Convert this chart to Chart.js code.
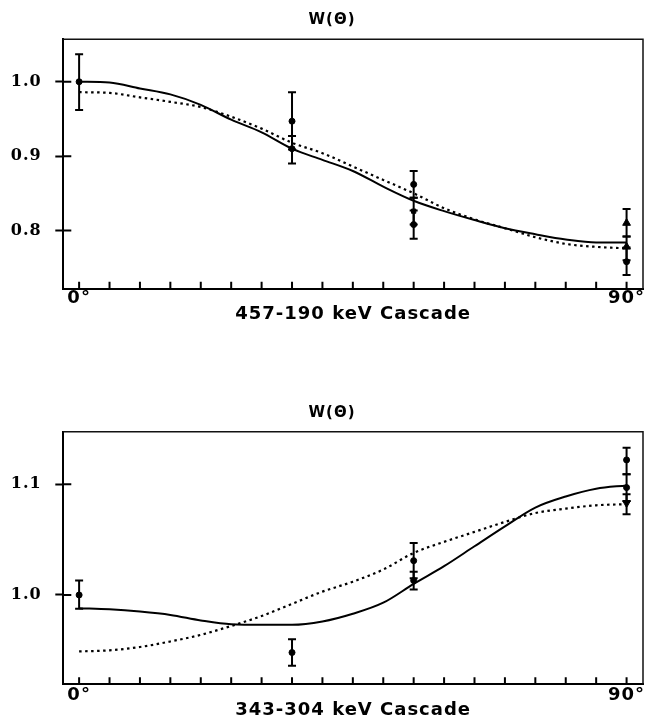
<!DOCTYPE html>
<html>
<head>
<meta charset="UTF-8">
<title>W(Θ) – 457-190 keV and 343-304 keV cascades</title>
<script src="https://cdn.jsdelivr.net/npm/chart.js"></script>
<style>
  body { margin: 0; background: #fff; }
  canvas { position: absolute; left: 0; }
  #topChart { top: 0; }
  #bottomChart { top: 380px; }
</style>
</head>
<body>
<canvas id="topChart" width="646" height="330"></canvas>
<canvas id="bottomChart" width="646" height="339"></canvas>
<script>
// angle grid (degrees) shared by both fitted curves and the x ticks
const angles = [0, 5, 10, 15, 20, 25, 30, 35, 40, 45, 50, 55, 60, 65, 70, 75, 80, 85, 90];
const xTickLabels = { 0: '0°', 90: '90°' };

// 457-190 keV cascade
const topSolid  = [1.000, 0.999, 0.991, 0.983, 0.969, 0.949, 0.932, 0.910, 0.895, 0.880, 0.859, 0.840, 0.826, 0.814, 0.803, 0.795, 0.788, 0.784, 0.784];
const topDotted = [0.986, 0.985, 0.979, 0.973, 0.966, 0.953, 0.937, 0.918, 0.904, 0.886, 0.868, 0.850, 0.830, 0.815, 0.803, 0.791, 0.782, 0.778, 0.776];
const topPtAngle = [0, 35, 35, 55, 55, 55, 90, 90, 90];
const topPtValue = [1.000, 0.947, 0.910, 0.862, 0.826, 0.808, 0.810, 0.778, 0.758];
const topPtLow   = [0.962, 0.909, 0.890, 0.844, 0.808, 0.789, 0.792, 0.760, 0.740];
const topPtHigh  = [1.037, 0.986, 0.927, 0.880, 0.844, 0.827, 0.829, 0.792, 0.777];
const topPtStyle = ['circle', 'circle', 'circle', 'circle', 'rect', 'circle', 'triangle', 'triangle', 'circle'];
const topYTicks = [0.8, 0.9, 1.0];

// 343-304 keV cascade
const botSolid  = [0.988, 0.987, 0.985, 0.982, 0.977, 0.9735, 0.973, 0.973, 0.976, 0.983, 0.993, 1.010, 1.026, 1.044, 1.062, 1.079, 1.089, 1.096, 1.099];
const botDotted = [0.949, 0.950, 0.953, 0.958, 0.964, 0.972, 0.981, 0.992, 1.003, 1.012, 1.023, 1.038, 1.048, 1.057, 1.066, 1.074, 1.078, 1.081, 1.082];
const botPtAngle = [0, 35, 55, 55, 90, 90, 90];
const botPtValue = [1.000, 0.948, 1.031, 1.013, 1.122, 1.097, 1.083];
const botPtLow   = [0.9876, 0.936, 1.015, 1.005, 1.109, 1.085, 1.073];
const botPtHigh  = [1.013, 0.960, 1.047, 1.021, 1.133, 1.109, 1.091];
const botPtStyle = ['circle', 'circle', 'circle', 'circle', 'circle', 'circle', 'triangle'];
const botPtRot   = [0, 0, 0, 0, 0, 0, 180];
const botYTicks = [1.0, 1.1];

const toXY = (xs, ys) => xs.map((x, i) => ({ x, y: ys[i] }));

// box frame, inner tick marks, letter spacing
const frame = {
  id: 'frame',
  beforeDraw(chart) { chart.ctx.letterSpacing = '1px'; },
  afterDraw(chart) {
    const { ctx, chartArea: a, scales: { x, y } } = chart;
    ctx.save();
    ctx.strokeStyle = '#111';
    ctx.lineWidth = 1.5;
    ctx.beginPath();
    ctx.moveTo(a.left, a.top);
    ctx.lineTo(a.right, a.top);
    ctx.lineTo(a.right, a.bottom);
    ctx.stroke();
    ctx.strokeStyle = '#000';
    ctx.lineWidth = 2;
    ctx.beginPath();
    x.ticks.forEach(t => {
      const px = x.getPixelForValue(t.value);
      ctx.moveTo(px, a.bottom);
      ctx.lineTo(px, a.bottom - 7);
    });
    y.ticks.forEach(t => {
      const py = y.getPixelForValue(t.value);
      ctx.moveTo(a.left, py);
      ctx.lineTo(a.left + 8, py);
    });
    ctx.stroke();
    ctx.restore();
  }
};

const errorBars = {
  id: 'errorBars',
  afterDatasetsDraw(chart) {
    const { ctx, scales: { x, y } } = chart;
    chart.data.datasets.forEach(ds => {
      if (!ds.lo) return;
      ctx.save();
      ctx.strokeStyle = '#000';
      ctx.lineWidth = 2;
      ds.data.forEach((p, i) => {
        const px = x.getPixelForValue(p.x);
        const y1 = y.getPixelForValue(ds.lo[i]);
        const y2 = y.getPixelForValue(ds.hi[i]);
        ctx.beginPath();
        ctx.moveTo(px, y1); ctx.lineTo(px, y2);
        ctx.moveTo(px - 4, y1); ctx.lineTo(px + 4, y1);
        ctx.moveTo(px - 4, y2); ctx.lineTo(px + 4, y2);
        ctx.stroke();
      });
      ctx.restore();
    });
  }
};

function makeChart(id, o) {
  return new Chart(document.getElementById(id), {
    type: 'scatter',
    data: {
      datasets: [
        {
          data: toXY(o.ptAngle, o.ptValue), lo: o.ptLow, hi: o.ptHigh,
          pointStyle: o.ptStyle, rotation: o.ptRot || 0,
          pointRadius: o.ptStyle.map(s => s === 'triangle' ? 4.5 : 3),
          backgroundColor: '#000', borderColor: '#000', borderWidth: 1
        },
        {
          data: toXY(angles, o.solid), showLine: true, pointRadius: 0,
          borderColor: '#000', borderWidth: 2, cubicInterpolationMode: 'monotone'
        },
        {
          data: toXY(angles, o.dotted), showLine: true, pointRadius: 0,
          borderColor: '#000', borderWidth: 2.2, borderDash: [2.5, 3.5],
          cubicInterpolationMode: 'monotone'
        }
      ]
    },
    options: {
      responsive: false,
      animation: false,
      layout: { padding: { left: 21, right: 3, top: 0, bottom: 0 }, autoPadding: false },
      plugins: {
        legend: { display: false },
        tooltip: { enabled: false },
        title: {
          display: true, text: 'W(Θ)', color: '#000',
          font: { family: 'DejaVu Sans', weight: 'bold', size: 15, lineHeight: 1.2 },
          padding: o.titlePad
        }
      },
      scales: {
        x: {
          type: 'linear', min: -2.6, max: 92.7,
          afterBuildTicks: s => { s.ticks = angles.map(v => ({ value: v })); },
          afterFit: s => { s.height = o.xAxisH; },
          grid: { display: false, drawTicks: false },
          border: { display: true, color: '#000', width: 2 },
          ticks: {
            color: '#000', padding: o.xLabelPad, maxRotation: 0, autoSkip: false,
            font: { family: 'DejaVu Sans', weight: 'bold', size: 18, lineHeight: 1 },
            callback: v => xTickLabels[v] || ''
          },
          title: {
            display: true, text: o.xTitle, color: '#000',
            font: { family: 'DejaVu Sans', weight: 'bold', size: 18, lineHeight: 1 },
            padding: { top: 0, bottom: o.xTitlePad }
          }
        },
        y: {
          min: o.yMin, max: o.yMax,
          afterBuildTicks: s => { s.ticks = o.yTicks.map(v => ({ value: v })); },
          afterFit: s => {
            s.width = 42.3;
            // labels sit left of the padded area; do not clip them to the axis box
            s._computeLabelArea = () => undefined;
          },
          grid: { drawOnChartArea: false, drawTicks: true, tickLength: 8, tickWidth: 2, tickColor: '#000', color: '#000' },
          border: { display: true, color: '#000', width: 2 },
          ticks: {
            color: '#000', padding: 13.6,
            font: { family: 'DejaVu Serif', weight: 'bold', size: 16 },
            callback: v => v.toFixed(1)
          }
        }
      }
    },
    plugins: [frame, errorBars]
  });
}

makeChart('topChart', {
  solid: topSolid, dotted: topDotted,
  ptAngle: topPtAngle, ptValue: topPtValue, ptLow: topPtLow, ptHigh: topPtHigh, ptStyle: topPtStyle,
  yTicks: topYTicks, yMin: 0.7216, yMax: 1.0571,
  xTitle: '457-190 keV Cascade',
  titlePad: { top: 10.8, bottom: 10.5 }, xAxisH: 41.2, xLabelPad: 1, xTitlePad: 6.7
});

makeChart('bottomChart', {
  solid: botSolid, dotted: botDotted,
  ptAngle: botPtAngle, ptValue: botPtValue, ptLow: botPtLow, ptHigh: botPtHigh, ptStyle: botPtStyle, ptRot: botPtRot,
  yTicks: botYTicks, yMin: 0.9193, yMax: 1.1475,
  xTitle: '343-304 keV Cascade',
  titlePad: { top: 24.1, bottom: 9.6 }, xAxisH: 34.7, xLabelPad: 2, xTitlePad: 0
});
</script>
</body>
</html>
